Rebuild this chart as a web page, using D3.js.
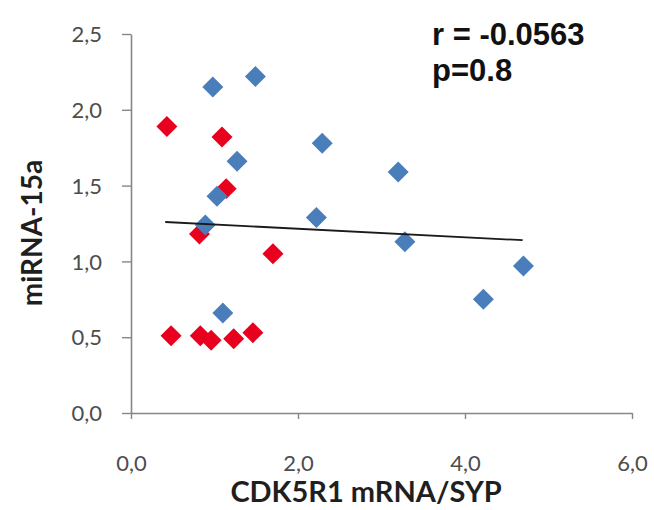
<!DOCTYPE html>
<html>
<head>
<meta charset="utf-8">
<script src="https://cdn.jsdelivr.net/npm/d3@7"></script>
<style>
  body { margin: 0; background: #fff; }
  svg { display: block; }
</style>
</head>
<body>
<div id="chart"></div>
<script>
// values
let blueX = [0.98, 1.49, 1.27, 1.03, 0.89, 1.10, 2.29, 3.20, 2.22, 3.28, 4.70, 4.22];
let blueY = [2.15, 2.22, 1.66, 1.43, 1.24, 0.66, 1.78, 1.59, 1.29, 1.13, 0.97, 0.75];

let redX = [0.43, 1.09, 1.14, 0.82, 1.70, 0.48, 0.83, 0.96, 1.23, 1.46];
let redY = [1.89, 1.82, 1.48, 1.18, 1.05, 0.51, 0.51, 0.48, 0.49, 0.53];

// trend line end points
let trendX = [0.41, 4.69];
let trendY = [1.26, 1.14];

let xTicks = [0, 2, 4, 6];
let yTicks = [0, 0.5, 1, 1.5, 2, 2.5];

let xTitle = 'CDK5R1 mRNA/SYP';
let yTitle = 'miRNA-15a';
let statLines = ['r = -0.0563', 'p=0.8'];

let width = 654, height = 510;
let margin = {top: 34, left: 131, right: 22, bottom: 97};

let svg = d3.select('#chart')
  .append('svg')
    .attr('width', width)
    .attr('height', height);

let xScale = d3.scaleLinear()
  .domain([0, 6])
  .range([margin.left, width - margin.right]);

let yScale = d3.scaleLinear()
  .domain([0, 2.5])
  .range([height - margin.bottom, margin.top]);

let fmt = d => d3.format('.1f')(d).replace('.', ',');

// x axis
let xAxis = svg.append('g')
  .attr('transform', 'translate(0,' + yScale(0) + ')')
  .call(d3.axisBottom(xScale).tickValues(xTicks).tickFormat(fmt).tickSize(6).tickSizeOuter(0).tickPadding(36));

// y axis
let yAxis = svg.append('g')
  .attr('transform', 'translate(' + xScale(0) + ',0)')
  .call(d3.axisLeft(yScale).tickValues(yTicks).tickFormat(fmt).tickSize(9).tickSizeOuter(0).tickPadding(20));

[xAxis, yAxis].forEach(function(ax) {
  ax.select('.domain').attr('stroke', '#878787').attr('stroke-width', 1.6);
  ax.selectAll('.tick line').attr('stroke', '#878787').attr('stroke-width', 1.4);
  ax.selectAll('.tick text')
    .attr('fill', '#4d4d4d')
    .style('font-family', 'Lato, sans-serif')
    .style('font-size', '22px');
});
yAxis.selectAll('.tick text').attr('dy', '0.35em');

// points
let diamond = d3.symbol().type(d3.symbolSquare).size(220);

function drawPoints(xs, ys, color) {
  let pts = xs.map((x, i) => ({x: x, y: ys[i]}));
  svg.append('g')
    .selectAll('path')
    .data(pts)
    .join('path')
      .attr('d', diamond)
      .attr('transform', d => 'translate(' + xScale(d.x) + ',' + yScale(d.y) + ') rotate(45)')
      .attr('fill', color);
}

drawPoints(redX, redY, '#e8001e');
drawPoints(blueX, blueY, '#4a7ebb');

// trend line
let trend = trendX.map((x, i) => ({x: x, y: trendY[i]}));
svg.append('path')
  .attr('d', d3.line().x(d => xScale(d.x)).y(d => yScale(d.y))(trend))
  .attr('fill', 'none')
  .attr('stroke', '#1a1a1a')
  .attr('stroke-width', 1.8);

// axis titles
svg.append('text')
  .attr('x', 366)
  .attr('y', 502)
  .attr('text-anchor', 'middle')
  .style('font-family', 'Lato, sans-serif')
  .style('font-weight', 'bold')
  .style('font-size', '29px')
  .attr('fill', '#1f1f1f')
  .text(xTitle);

svg.append('text')
  .attr('transform', 'translate(42,233) rotate(-90)')
  .attr('text-anchor', 'middle')
  .style('font-family', 'Lato, sans-serif')
  .style('font-weight', 'bold')
  .style('font-size', '28px')
  .attr('fill', '#1f1f1f')
  .text(yTitle);

// r / p annotation
svg.selectAll('.stat')
  .data(statLines)
  .join('text')
    .attr('class', 'stat')
    .attr('x', 432)
    .attr('y', (d, i) => 45 + i * 36)
    .style('font-family', '"Liberation Sans", Arial, sans-serif')
    .style('font-weight', 'bold')
    .style('font-size', '31px')
    .attr('fill', '#111')
    .text(d => d);
</script>
</body>
</html>
